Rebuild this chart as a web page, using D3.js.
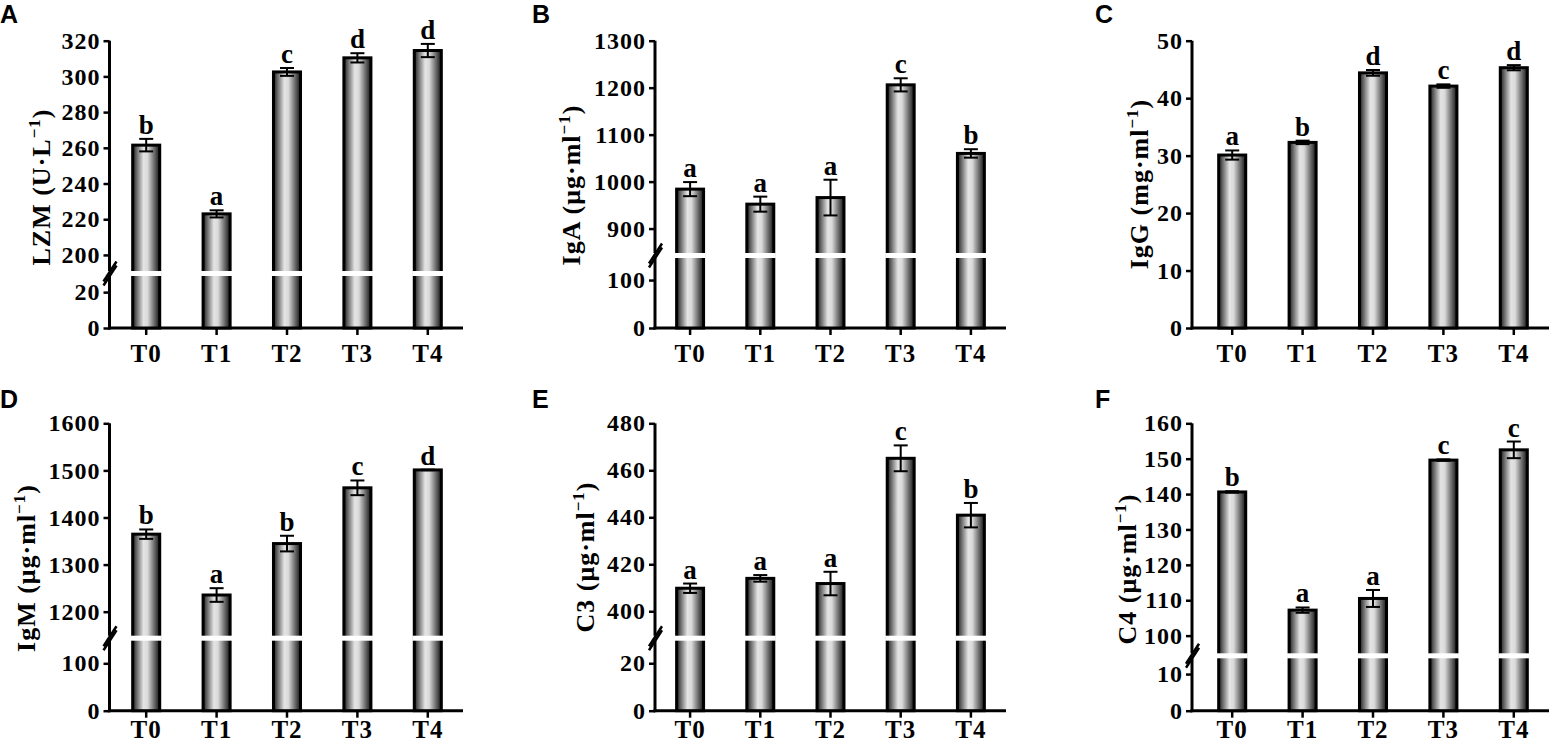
<!DOCTYPE html>
<html>
<head>
<meta charset="utf-8">
<script src="https://cdn.jsdelivr.net/npm/d3@7"></script>
<style>
body { margin: 0; background: #fff; }
svg { display: block; }
text { font-family: "Liberation Serif", "Times New Roman", serif; font-weight: bold; fill: #000; }
.tag { font-family: "Liberation Sans", Arial, sans-serif; font-size: 25px; }
</style>
</head>
<body>
<script>
// treatment groups
var groups = ["T0", "T1", "T2", "T3", "T4"];

// A: lysozyme
var lzmMean = [261.5, 223.0, 302.5, 310.4, 314.5];
var lzmErr  = [3.5, 2.0, 2.2, 2.6, 3.7];
var lzmSig  = ["b", "a", "c", "d", "d"];
var lzmTicks = [0, 20, 200, 220, 240, 260, 280, 300, 320];
var lzmBreak = [29, 191];

// B: IgA
var igaMean = [984, 952, 966, 1206, 1060];
var igaErr  = [15, 16, 38, 14, 9];
var igaSig  = ["a", "a", "a", "c", "b"];
var igaTicks = [0, 100, 900, 1000, 1100, 1200, 1300];
var igaBreak = [146, 848];

// C: IgG
var iggMean = [30.1, 32.3, 44.4, 42.1, 45.3];
var iggErr  = [0.8, 0.3, 0.5, 0.3, 0.45];
var iggSig  = ["a", "b", "d", "c", "d"];
var iggTicks = [0, 10, 20, 30, 40, 50];

// D: IgM
var igmMean = [1364.6, 1235.4, 1344.6, 1463, 1501];
var igmErr  = [10, 14.5, 16.6, 15.6, 0.5];
var igmSig  = ["b", "a", "b", "c", "d"];
var igmTicks = [0, 100, 1200, 1300, 1400, 1500, 1600];
var igmBreak = [147.7, 1149];

// E: C3
var c3Mean = [409.8, 414.0, 411.8, 465.1, 440.9];
var c3Err  = [2.0, 1.4, 5.0, 5.5, 5.2];
var c3Sig  = ["a", "a", "a", "c", "b"];
var c3Ticks = [0, 20, 400, 420, 440, 460, 480];
var c3Break = [29.5, 389.6];

// F: C4
var c4Mean = [140.6, 107.2, 110.5, 149.6, 152.5];
var c4Err  = [0.2, 0.75, 2.4, 0.2, 2.35];
var c4Sig  = ["b", "a", "a", "c", "c"];
var c4Ticks = [0, 10, 100, 110, 120, 130, 140, 150, 160];
var c4Break = [14.3, 95];

// axis titles: [text, superscript, closing]
var titles = [
    ["LZM (U·L", "\u22121", ")"],
    ["IgA (\u03bcg·ml", "\u22121", ")"],
    ["IgG (mg·ml", "\u22121", ")"],
    ["IgM (\u03bcg·ml", "\u22121", ")"],
    ["C3 (\u03bcg·ml", "\u22121", ")"],
    ["C4 (\u03bcg·ml", "\u22121", ")"]
];

var panels = [
    {tag: "A", mean: lzmMean, err: lzmErr, sig: lzmSig, ticks: lzmTicks, brk: lzmBreak, col: 0, row: 0, lowH: 52, title: titles[0], tx: 50, ty: 187},
    {tag: "B", mean: igaMean, err: igaErr, sig: igaSig, ticks: igaTicks, brk: igaBreak, col: 1, row: 0, lowH: 70, title: titles[1], tx: 580, ty: 185},
    {tag: "C", mean: iggMean, err: iggErr, sig: iggSig, ticks: iggTicks, brk: null, col: 2, row: 0, lowH: 0, title: titles[2], tx: 1148, ty: 184},
    {tag: "D", mean: igmMean, err: igmErr, sig: igmSig, ticks: igmTicks, brk: igmBreak, col: 0, row: 1, lowH: 70, title: titles[3], tx: 35, ty: 568},
    {tag: "E", mean: c3Mean, err: c3Err, sig: c3Sig, ticks: c3Ticks, brk: c3Break, col: 1, row: 1, lowH: 70, title: titles[4], tx: 594, ty: 557},
    {tag: "F", mean: c4Mean, err: c4Err, sig: c4Sig, ticks: c4Ticks, brk: c4Break, col: 2, row: 1, lowH: 52.4, title: titles[5], tx: 1136, ty: 569}
];

var cols = [
    {axisX: 109.5, x0: 111, x1: 463, tagX: 0},
    {axisX: 655, x0: 655, x1: 1006, tagX: 532},
    {axisX: 1192, x0: 1197, x1: 1549, tagX: 1095}
];
var rows = [
    {base: 328, top: 40.7, tagY: 23, labelPad: 9},
    {base: 710.7, top: 423.3, tagY: 408, labelPad: 3}
];

var width = 1550, height = 744;
var gap = 5;

var svg = d3.select("body").append("svg")
    .attr("width", width)
    .attr("height", height);

var grad = svg.append("defs").append("linearGradient")
    .attr("id", "barGrad")
    .attr("x1", "0%").attr("x2", "100%").attr("y1", "0%").attr("y2", "0%");
[[0, "#1c1c1c"], [0.12, "#5a5a5a"], [0.4, "#e4e4e4"], [0.55, "#dadada"], [0.85, "#555"], [1, "#161616"]]
    .forEach(function (s) {
        grad.append("stop").attr("offset", s[0]).attr("stop-color", s[1]);
    });

panels.forEach(function (p) {
    var c = cols[p.col], r = rows[p.row];
    var g = svg.append("g");
    var yMax = p.ticks[p.ticks.length - 1];

    var y;
    if (p.brk) {
        y = d3.scaleLinear()
            .domain([0, p.brk[0], p.brk[1], yMax])
            .range([r.base, r.base - p.lowH, r.base - p.lowH - gap, r.top]);
    } else {
        y = d3.scaleLinear().domain([0, yMax]).range([r.base, r.top]);
    }

    var x = d3.scaleBand()
        .domain(groups)
        .range([c.x0, c.x1])
        .paddingInner(0.616)
        .paddingOuter(0.308);

    // y axis ticks + labels
    var yAxis = g.append("g")
        .attr("transform", "translate(" + c.axisX + ",0)")
        .call(d3.axisLeft(y).tickValues(p.ticks).tickFormat(d3.format("d"))
            .tickSize(6).tickPadding(3).tickSizeOuter(0));
    yAxis.select(".domain").remove();
    yAxis.selectAll("line").attr("stroke", "#000").attr("stroke-width", 2.5);
    yAxis.selectAll("text")
        .attr("font-family", null)
        .style("font-size", "24px")
        .style("letter-spacing", "1px");

    // y axis line (split at break)
    if (p.brk) {
        var yb = y(p.brk[0]), yt = y(p.brk[1]);
        g.append("line").attr("x1", c.axisX).attr("x2", c.axisX)
            .attr("y1", r.base + 1.5).attr("y2", yb)
            .attr("stroke", "#000").attr("stroke-width", 3);
        g.append("line").attr("x1", c.axisX).attr("x2", c.axisX)
            .attr("y1", yt).attr("y2", r.top)
            .attr("stroke", "#000").attr("stroke-width", 3);
        var mid = (yb + yt) / 2;
        [-2, 2].forEach(function (o) {
            g.append("line")
                .attr("x1", c.axisX - 6).attr("y1", mid + o + 10)
                .attr("x2", c.axisX + 7).attr("y2", mid + o - 10)
                .attr("stroke", "#000").attr("stroke-width", 2.5);
        });
    } else {
        g.append("line").attr("x1", c.axisX).attr("x2", c.axisX)
            .attr("y1", r.base + 1.5).attr("y2", r.top)
            .attr("stroke", "#000").attr("stroke-width", 3);
    }

    // x axis
    var xAxis = g.append("g")
        .attr("transform", "translate(0," + r.base + ")")
        .call(d3.axisBottom(x).tickSize(7).tickPadding(r.labelPad).tickSizeOuter(0));
    xAxis.select(".domain").remove();
    xAxis.selectAll("line").attr("stroke", "#000").attr("stroke-width", 2.5);
    xAxis.selectAll("text")
        .attr("font-family", null)
        .style("font-size", "25px")
        .style("letter-spacing", "1px");
    g.append("line")
        .attr("x1", c.axisX - 1.5).attr("x2", c.x1)
        .attr("y1", r.base).attr("y2", r.base)
        .attr("stroke", "#000").attr("stroke-width", 3);

    // bars
    g.selectAll("rect.bar").data(groups).enter().append("rect")
        .attr("class", "bar")
        .attr("x", function (d) { return x(d); })
        .attr("width", x.bandwidth())
        .attr("y", function (d, i) { return y(p.mean[i]); })
        .attr("height", function (d, i) { return r.base - y(p.mean[i]); })
        .attr("fill", "url(#barGrad)")
        .attr("stroke", "#000")
        .attr("stroke-width", 3);

    // white break band across bars
    if (p.brk) {
        g.selectAll("rect.cut").data(groups).enter().append("rect")
            .attr("class", "cut")
            .attr("x", function (d) { return x(d) - 2; })
            .attr("width", x.bandwidth() + 4)
            .attr("y", y(p.brk[1]))
            .attr("height", y(p.brk[0]) - y(p.brk[1]))
            .attr("fill", "#fff");
    }

    // error bars + significance letters
    var cap = 7;
    groups.forEach(function (d, i) {
        var cx = x(d) + x.bandwidth() / 2;
        var hi = y(p.mean[i] + p.err[i]), lo = y(p.mean[i] - p.err[i]);
        var eb = g.append("g").attr("stroke", "#000").attr("stroke-width", 2);
        eb.append("line").attr("x1", cx).attr("x2", cx).attr("y1", hi).attr("y2", lo);
        eb.append("line").attr("x1", cx - cap).attr("x2", cx + cap).attr("y1", hi).attr("y2", hi);
        eb.append("line").attr("x1", cx - cap).attr("x2", cx + cap).attr("y1", lo).attr("y2", lo);

        g.append("text")
            .attr("x", cx)
            .attr("y", hi - 5)
            .attr("text-anchor", "middle")
            .style("font-size", "27px")
            .text(p.sig[i]);
    });

    // y title
    var t = g.append("text")
        .attr("transform", "translate(" + p.tx + "," + p.ty + ") rotate(-90)")
        .attr("text-anchor", "middle")
        .style("font-size", "26px")
        .style("letter-spacing", "1px");
    t.append("tspan").text(p.title[0]);
    t.append("tspan").attr("dy", -10).style("font-size", "17px").text(p.title[1]);
    t.append("tspan").attr("dy", 10).text(p.title[2]);

    // panel letter
    svg.append("text")
        .attr("class", "tag")
        .attr("x", c.tagX)
        .attr("y", r.tagY)
        .text(p.tag);
});
</script>
</body>
</html>
